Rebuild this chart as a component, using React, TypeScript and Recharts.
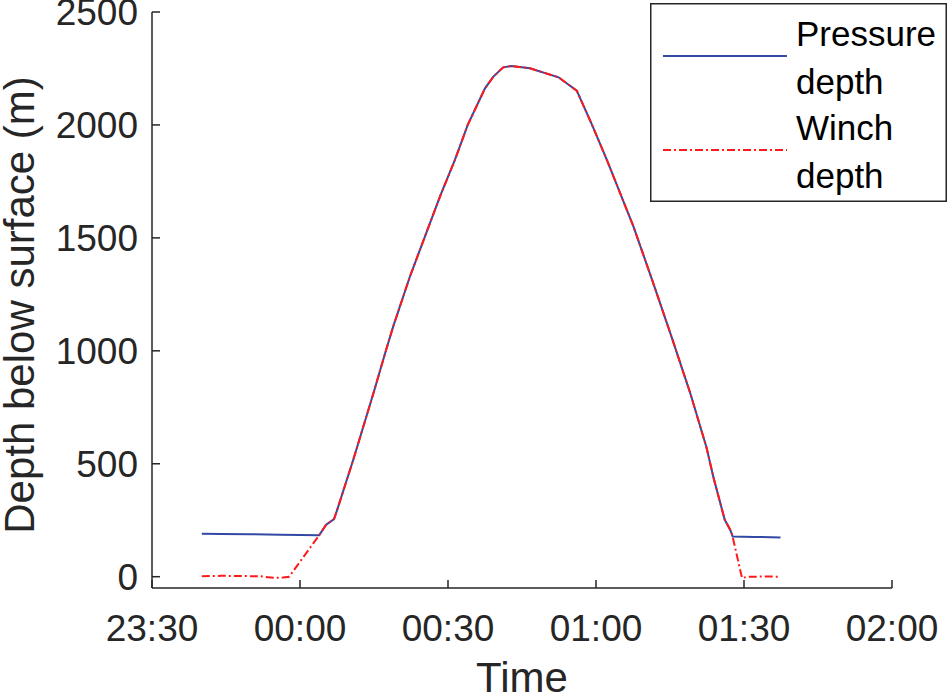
import { LineChart, Line, XAxis, YAxis, Legend } from 'recharts';

// minutes after 23:30
const pressureTime = [
  10.1, 14, 20, 26, 30, 33.9, 35.3, 36.9, 37.6, 40.8, 44.9, 47.4, 48.9, 52.3, 55.7, 58.5,
  61.4, 64, 67.5, 69.2, 71.2, 72.9, 76.6, 82.4, 86.1, 89.2, 92.2, 97.6, 101.6, 105.3,
  109.1, 112.4, 113.8, 116.1, 117.2, 117.7, 122, 127.4,
];
const pressureDepth = [
  190, 189, 188, 186, 185, 184, 230, 255, 300, 518, 813, 1000, 1108, 1330, 1528, 1690,
  1845, 2000, 2162, 2214, 2255, 2261, 2251, 2211, 2152, 2000, 1845, 1550, 1300, 1063,
  813, 572, 440, 252, 208, 178, 176, 174,
];

const winchTime = [
  10.1, 14, 18, 22, 23.5, 24.8, 26.5, 27.8, 33.9, 35.3, 36.9, 37.6, 40.8, 44.9, 47.4, 48.9,
  52.3, 55.7, 58.5, 61.4, 64, 67.5, 69.2, 71.2, 72.9, 76.6, 82.4, 86.1, 89.2, 92.2, 97.6,
  101.6, 105.3, 109.1, 112.4, 113.8, 116.1, 117.2, 117.6, 119.6, 120.5, 124, 127.4,
];
const winchDepth = [
  2, 4, 3, 2, -2, -5, -4, 0, 184, 230, 255, 300, 518, 813, 1000, 1108,
  1330, 1528, 1690, 1845, 2000, 2162, 2214, 2255, 2261, 2251, 2211, 2152, 2000, 1845, 1550,
  1300, 1063, 813, 572, 440, 252, 208, 186, -6, -1, 1, 0,
];

const xTicks = [0, 30, 60, 90, 120, 150];
const xTickLabels = ['23:30', '00:00', '00:30', '01:00', '01:30', '02:00'];
const yTicks = [0, 500, 1000, 1500, 2000, 2500];

const pressureData = pressureTime.map((t, i) => ({ t, depth: pressureDepth[i] }));
const winchData = winchTime.map((t, i) => ({ t, depth: winchDepth[i] }));

const FONT = '"Liberation Sans", Arial, Helvetica, sans-serif';
const INK = '#262626';

function XTick({ x, y, payload }: any) {
  const idx = xTicks.indexOf(payload.value);
  return (
    <g>
      <line x1={x} y1={y} x2={x} y2={y - 8} stroke={INK} strokeWidth={1.5} />
      <text x={x} y={y + 53} textAnchor="middle" fill={INK} fontSize={37} fontFamily={FONT}>
        {xTickLabels[idx]}
      </text>
    </g>
  );
}

function YTick({ x, y, payload }: any) {
  return (
    <g>
      <line x1={x} y1={y} x2={x + 8} y2={y} stroke={INK} strokeWidth={1.5} />
      <text x={x - 14} y={y + 13} textAnchor="end" fill={INK} fontSize={37} fontFamily={FONT}>
        {payload.value}
      </text>
    </g>
  );
}

function LegendBox({ payload }: any) {
  return (
    <svg width={297} height={199} style={{ display: 'block' }}>
      <rect x={0.75} y={0.75} width={295.5} height={197.5} fill="#fff" stroke={INK} strokeWidth={1.5} />
      {(payload || []).map((entry: any, i: number) => {
        const lines = String(entry.value).split(' ');
        const oy = i * 94;
        return (
          <g key={i}>
            <line
              x1={13}
              x2={137}
              y1={53 + oy}
              y2={53 + oy}
              stroke={entry.color}
              strokeWidth={2}
              strokeDasharray={entry.payload?.strokeDasharray}
            />
            {lines.map((s: string, j: number) => (
              <text key={j} x={146} y={43 + oy + j * 48} fill="#000" fontSize={35} fontFamily={FONT}>
                {s}
              </text>
            ))}
          </g>
        );
      })}
    </svg>
  );
}

export default function App() {
  return (
    <div style={{ position: 'absolute', left: 0, top: 0, width: 950, height: 697, background: '#fff' }}>
      <LineChart width={950} height={697} margin={{ top: 12, right: 58, left: 0, bottom: 9 }}>
        <XAxis
          dataKey="t"
          type="number"
          domain={[0, 150]}
          ticks={xTicks}
          allowDataOverflow
          height={100}
          tickSize={0}
          tickMargin={0}
          tickLine={false}
          axisLine={{ stroke: INK, strokeWidth: 1.5 }}
          tick={<XTick />}
          label={{
            content: ({ viewBox }: any) => (
              <text
                x={viewBox.x + viewBox.width / 2}
                y={692}
                textAnchor="middle"
                fill={INK}
                fontSize={42}
                fontFamily={FONT}
              >
                Time
              </text>
            ),
          }}
        />
        <YAxis
          type="number"
          domain={[-50, 2500]}
          ticks={yTicks}
          allowDataOverflow
          width={152}
          tickSize={0}
          tickMargin={0}
          tickLine={false}
          axisLine={{ stroke: INK, strokeWidth: 1.5 }}
          tick={<YTick />}
          label={{
            content: ({ viewBox }: any) => {
              const cy = viewBox.y + viewBox.height / 2 + 5;
              return (
                <text
                  x={34}
                  y={cy}
                  transform={`rotate(-90, 34, ${cy})`}
                  textAnchor="middle"
                  fill={INK}
                  fontSize={42}
                  fontFamily={FONT}
                >
                  Depth below surface (m)
                </text>
              );
            },
          }}
        />
        <Legend
          layout="vertical"
          align="center"
          verticalAlign="middle"
          wrapperStyle={{ left: 650, top: 3, width: 297, height: 199 }}
          content={<LegendBox />}
        />
        <Line
          data={pressureData}
          dataKey="depth"
          name="Pressure depth"
          type="linear"
          stroke="#3449a5"
          strokeWidth={2}
          dot={false}
          activeDot={false}
          isAnimationActive={false}
        />
        <Line
          data={winchData}
          dataKey="depth"
          name="Winch depth"
          type="linear"
          stroke="#ff1a1a"
          strokeWidth={2}
          strokeDasharray="8 3 2 3"
          dot={false}
          activeDot={false}
          isAnimationActive={false}
        />
      </LineChart>
    </div>
  );
}
